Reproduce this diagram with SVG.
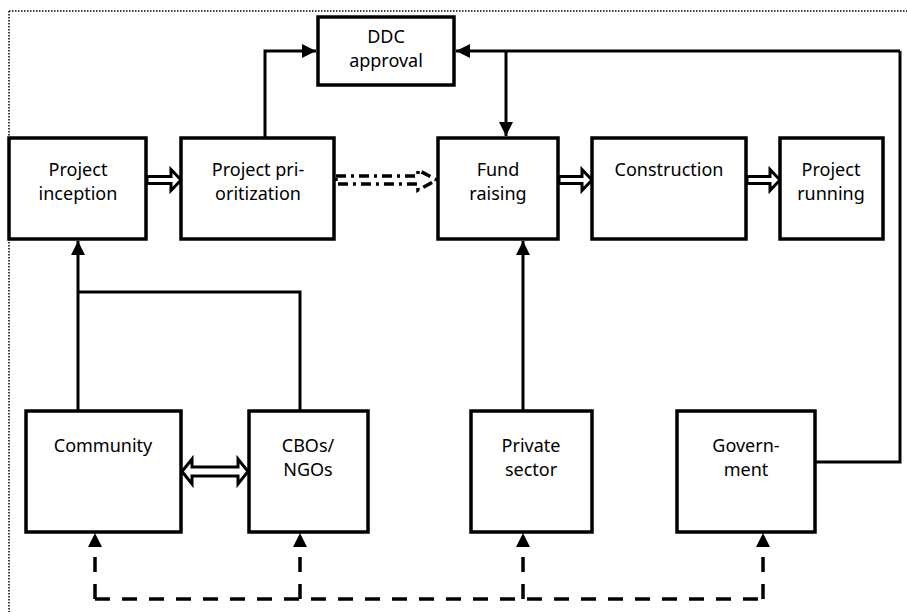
<svg xmlns="http://www.w3.org/2000/svg" width="907" height="612" viewBox="0 0 907 612">
<style>
.box{fill:#fff;stroke:#000;stroke-width:3.5}
.t{font-family:"Noto Sans","DejaVu Sans",sans-serif;font-size:18px;text-anchor:middle;fill:#000}
.ln{fill:none;stroke:#000;stroke-width:3}
.dl{fill:none;stroke:#000;stroke-width:3.5;stroke-dasharray:15 12}
.blk{fill:#fff;stroke:#000;stroke-width:3;stroke-linejoin:miter}
</style>
<defs>
<marker id="ah" markerWidth="16" markerHeight="16" refX="14" refY="7" orient="auto" markerUnits="userSpaceOnUse">
<path d="M0,0 L14,7 L0,14 Z" fill="#000"/>
</marker>
</defs>
<rect width="907" height="612" fill="#fff"/>
<g id="border">
<line x1="9" y1="11" x2="907" y2="11" stroke="#000" stroke-width="1.5" stroke-dasharray="1.5 1.5"/>
<line x1="9" y1="11" x2="9" y2="612" stroke="#000" stroke-width="1.5" stroke-dasharray="1.5 1.5"/>
</g>
<g id="connectors">
<path class="ln" d="M265,138 V51 H316" marker-end="url(#ah)"/>
<path class="ln" d="M900,51 H456" marker-end="url(#ah)"/>
<path class="ln" d="M506,51 V136" marker-end="url(#ah)"/>
<path class="ln" d="M815,462 H900 V51"/>
<path class="ln" d="M78,411 V241" marker-end="url(#ah)"/>
<path class="ln" d="M78,292 H300 V411"/>
<path class="ln" d="M523,411 V241" marker-end="url(#ah)"/>
<path class="blk" d="M147,176.5 H171 V169.5 L181,180 L171,190.5 V183.5 H147 Z"/>
<path class="blk" d="M559,176.5 H582 V169.5 L592,180 L582,190.5 V183.5 H559 Z"/>
<path class="blk" d="M747,176.5 H770 V169.5 L780,180 L770,190.5 V183.5 H747 Z"/>
<path class="blk" d="M182,471.5 L192,459 V467 H238 V459 L248,471.5 L238,484 V476 H192 V484 Z"/>
<path d="M336,176 H418 V170 L437,180 L418,190 V184 H336 Z" fill="#fff" stroke="#000" stroke-width="3.5" stroke-dasharray="10 5 3 5"/>
<path class="dl" d="M95,599 H763"/>
<path class="dl" d="M95,599 V547"/>
<path class="dl" d="M300,599 V547"/>
<path class="dl" d="M523,599 V547"/>
<path class="dl" d="M763,599 V547"/>
<path d="M88,547 L95,533 L102,547 Z M293,547 L300,533 L307,547 Z M516,547 L523,533 L530,547 Z M756,547 L763,533 L770,547 Z" fill="#000"/>
</g>
<g id="ddc"><rect class="box" x="318" y="17" width="136" height="68"/><text class="t" x="386" y="43">DDC</text><text class="t" x="386" y="67">approval</text></g>
<g id="inception"><rect class="box" x="9" y="138" width="137" height="101"/><text class="t" x="78" y="176">Project</text><text class="t" x="78" y="200">inception</text></g>
<g id="prioritization"><rect class="box" x="181" y="138" width="153" height="101"/><text class="t" x="258" y="176">Project pri-</text><text class="t" x="258" y="200">oritization</text></g>
<g id="fund"><rect class="box" x="438" y="138" width="120" height="101"/><text class="t" x="498" y="176">Fund</text><text class="t" x="498" y="200">raising</text></g>
<g id="construction"><rect class="box" x="592" y="138" width="154" height="101"/><text class="t" x="669" y="176">Construction</text></g>
<g id="running"><rect class="box" x="780" y="138" width="103" height="101"/><text class="t" x="831" y="176">Project</text><text class="t" x="831" y="200">running</text></g>
<g id="community"><rect class="box" x="26" y="411" width="155" height="121"/><text class="t" x="103" y="452">Community</text></g>
<g id="cbos"><rect class="box" x="249" y="411" width="119" height="121"/><text class="t" x="308" y="452">CBOs/</text><text class="t" x="308" y="476">NGOs</text></g>
<g id="private"><rect class="box" x="471" y="411" width="121" height="121"/><text class="t" x="531" y="452">Private</text><text class="t" x="531" y="476">sector</text></g>
<g id="government"><rect class="box" x="677" y="411" width="138" height="121"/><text class="t" x="746" y="452">Govern-</text><text class="t" x="746" y="476">ment</text></g>
</svg>
